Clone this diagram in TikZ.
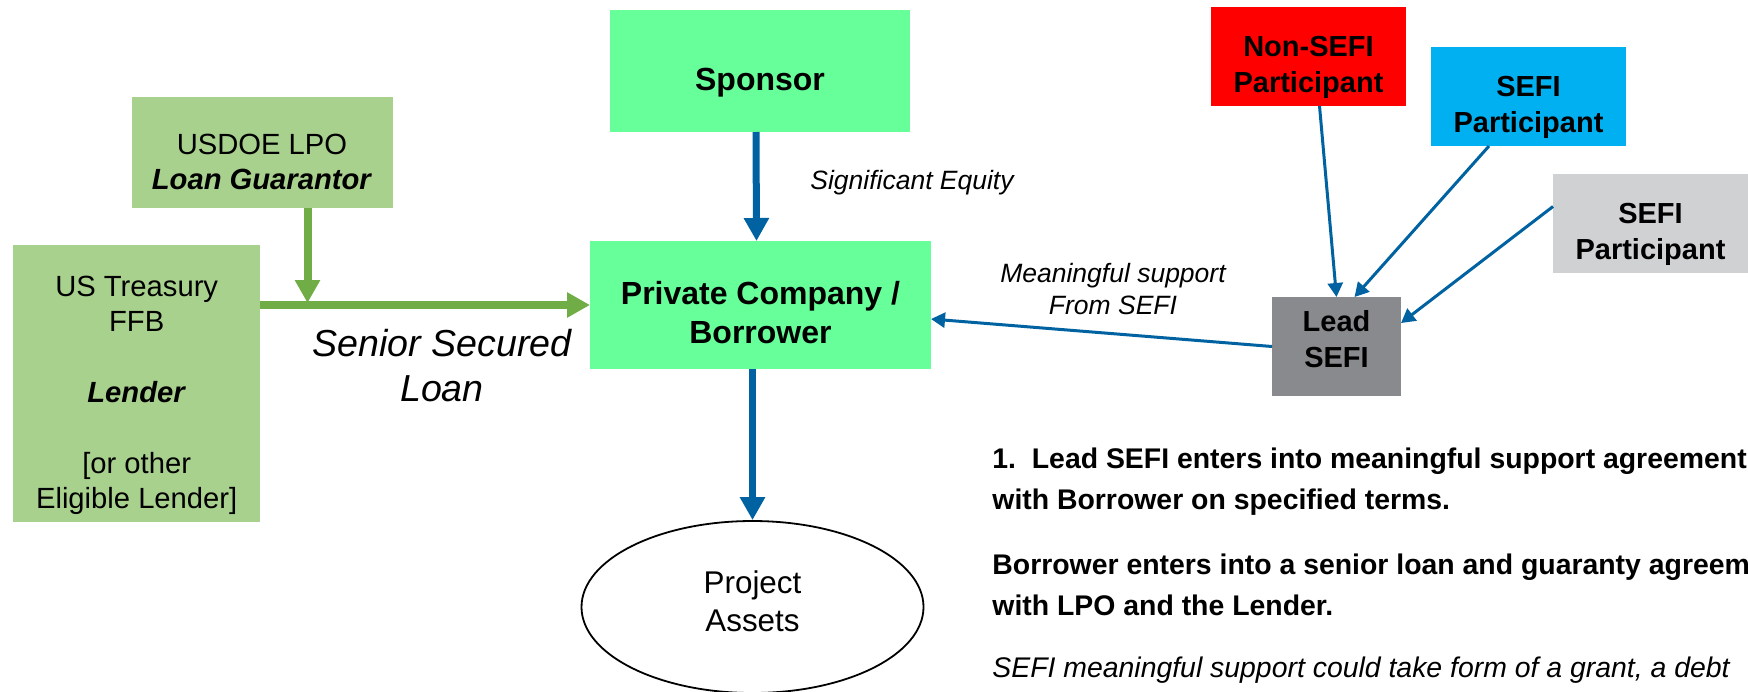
\documentclass[tikz,border=0pt]{standalone}
\usepackage{fontspec}
\setmainfont{Liberation Sans}
\usetikzlibrary{arrows.meta,calc,shapes.geometric}

\definecolor{lpogreen}{HTML}{A9D18E}
\definecolor{mint}{HTML}{66FF99}
\definecolor{loangreen}{HTML}{70AD47}
\definecolor{flowblue}{HTML}{0062A1}
\definecolor{nonsefired}{HTML}{FF0000}
\definecolor{sefiblue}{HTML}{00B0F0}
\definecolor{sefigray}{HTML}{D0D1D3}
\definecolor{leadgray}{HTML}{898A8E}

\newcommand{\lenderfont}{\fontsize{14.6pt}{17.7pt}\selectfont}
\newcommand{\borrowerfont}{\fontsize{16pt}{19.5pt}\selectfont}
\newcommand{\sefifont}{\fontsize{14.5pt}{18pt}\selectfont}
\newcommand{\notefont}{\fontsize{13.25pt}{16pt}\selectfont}
\newcommand{\loanfont}{\fontsize{18.8pt}{22.5pt}\selectfont}
\newcommand{\assetfont}{\fontsize{15.7pt}{19pt}\selectfont}
\newcommand{\termsfont}{\fontsize{14.2pt}{20.5pt}\selectfont}

% a larger text height drops the text in its box, a larger text depth lifts it
\tikzset{
  party/.style={rectangle, inner sep=0pt, outer sep=0pt, align=center},
  lpobox/.style={party, fill=lpogreen, font=\lenderfont},
  mintbox/.style={party, fill=mint, font=\borrowerfont\bfseries},
  sefibox/.style={party, font=\sefifont\bfseries, text height=38.6pt,
    minimum width=97.5pt, minimum height=49.5pt},
  flow/.style={-{Triangle[width=12pt,length=11.5pt]}, flowblue, line width=3.5pt},
  loan/.style={-{Triangle[width=12pt,length=11.5pt]}, loangreen, line width=4pt},
  support/.style={-{Triangle[width=7.5pt,length=7pt]}, flowblue, line width=1.5pt},
  note/.style={inner sep=0pt, align=center, font=\notefont\itshape},
  terms/.style={inner sep=0pt, align=left, anchor=base west, font=\termsfont\bfseries},
}

\begin{document}
\begin{tikzpicture}[x=0.5pt, y=-0.5pt]
  \useasboundingbox (0,0) rectangle (1748,691);
  \clip (0,0) rectangle (1748,691);

  \node[mintbox, minimum width=150pt, minimum height=61pt, text height=23pt]
    (sponsor) at (760, 71) {Sponsor};

  \node[mintbox, minimum width=170.5pt, minimum height=64pt, text height=39pt]
    (company) at (760.5, 305) {Private Company /\\Borrower};

  \node[lpobox, minimum width=130.5pt, minimum height=55.5pt, text height=37.4pt]
    (usdoe) at (262, 152.5) {USDOE LPO\\\textbf{\textit{Loan Guarantor}}};

  \node[lpobox, minimum width=123.3pt, minimum height=138.5pt, text height=128pt]
    (treasury) at (136.7, 383.5)
    {US Treasury\\FFB\\[17.7pt]\textbf{\textit{Lender}}\\[17.7pt][or other\\Eligible Lender]};

  \node[draw, ellipse, inner sep=0pt, minimum width=171pt, minimum height=86pt,
    line width=0.9pt, font=\assetfont, align=center, text depth=5.5pt]
    (assets) at (752.5, 607) {Project\\Assets};

  \node[sefibox, fill=nonsefired] (nonsefi) at (1308.5, 56.5) {Non-SEFI\\Participant};
  \node[sefibox, fill=sefiblue]   (sefione) at (1528.5, 96.5) {SEFI\\Participant};
  \node[sefibox, fill=sefigray]   (sefitwo) at (1650.5, 223.5) {SEFI\\Participant};

  \node[sefibox, fill=leadgray, minimum width=64.5pt, text height={}, text depth=8pt]
    (lead) at (1336.5, 346.5) {Lead\\SEFI};

  \node[note] (equity) at (912, 183) {Significant Equity};
  \node[note] (support) at (1113, 289) {Meaningful support\\From SEFI};
  \node[note, font=\loanfont\itshape] (senior) at (442, 365.5) {Senior Secured\\Loan};

  \coordinate (loanjoin) at (307.5, 303);

  \draw[loan] ($(treasury.east)+(0,-78.5)$) -- (company.west);
  \draw[loan] (usdoe.south -| loanjoin) -- (loanjoin);

  \draw[flow] ($(sponsor.south)+(-4,0)$) -- ($(company.north)+(-4,0)$);
  \draw[flow] (assets.north |- company.south) -- (assets.north);

  \draw[support] ($(nonsefi.south)+(11,0)$) -- (lead.north);
  \draw[support] ($(sefione.south)+(-39.5,0)$) -- ($(lead.north)+(18,0)$);
  \draw[support] ($(sefitwo.west)+(0,-17)$) -- (lead.20);
  \draw[support] (lead.west) -- ($(company.east)+(0,14)$);

  \node[terms] (step1) at (992, 509)
    {1.\ \ Lead SEFI enters into meaningful support agreement\\with Borrower on specified terms.};
  \node[terms] (step2) at (992, 615)
    {Borrower enters into a senior loan and guaranty agreement\\with LPO and the Lender.};
  \node[terms, font=\termsfont\itshape] (remark) at (992, 677)
    {SEFI meaningful support could take form of a grant, a debt};
\end{tikzpicture}
\end{document}
